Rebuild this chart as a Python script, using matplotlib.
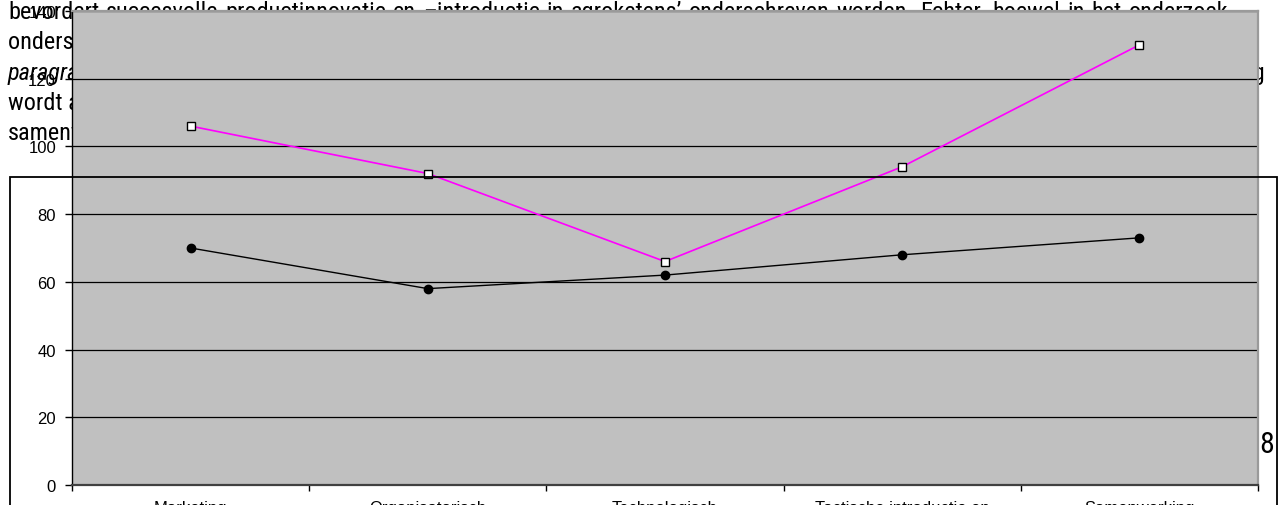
import matplotlib
matplotlib.use("Agg")
import matplotlib.pyplot as plt
from matplotlib import font_manager
from matplotlib.font_manager import FontProperties
from matplotlib.patches import Rectangle

# ---- data -------------------------------------------------------------
categories = ["Marketing", "Organisatorisch", "Technologisch",
              "Tactische introductie en\nacceptatie", "Samenwerking"]
series_black = [70, 58, 62, 68, 73]
series_pink = [106, 92, 66, 94, 130]
y_ticks = [0, 20, 40, 60, 80, 100, 120, 140]

# ---- surrounding page text ---------------------------------------------
body_line1 = ("bevordert succesvolle productinnovatie en \u2013introductie in "
              "agroketens\u2019 onderschreven worden. Echter, hoewel in het onderzoek")
body_left = [
    ("onderscheid gemaakt wordt tussen", False, 49),
    ("paragraaf", True, 80),
    ("wordt aandacht besteed aan", False, 110),
    ("samenwerking", False, 140),
]
body_right = [("samenwerking", 80)]
page_number = "8"

W, H = 1278, 506
fig = plt.figure(figsize=(W / 100, H / 100), dpi=100)


def pick_body_font(italic=False):
    """Prefer a narrow sans face for the running text, else Liberation Sans."""
    wanted_style = "italic" if italic else "normal"
    for fam in ("Liberation Sans Narrow", "Arial Narrow", "Roboto Condensed",
                "Open Sans Condensed", "DejaVu Sans Condensed"):
        for f in font_manager.fontManager.ttflist:
            if f.name == fam and f.style == wanted_style and f.weight in (400, "normal", "regular"):
                return FontProperties(fname=f.fname), True
    for f in font_manager.fontManager.ttflist:
        st = str(f.stretch)
        if ("condensed" in st or "narrow" in f.fname.lower()) and "sans" in f.name.lower() \
                and f.style == wanted_style and "bold" not in f.fname.lower():
            return FontProperties(fname=f.fname), True
    return FontProperties(family="Liberation Sans", style=wanted_style), False


body_fp, is_narrow = pick_body_font()
body_fp_it, _ = pick_body_font(italic=True)
body_size = 17.5 if is_narrow else 15.5
chart_font = "Liberation Sans"


def fy(py):
    return 1 - py / H


def fx(px):
    return px / W


renderer = fig.canvas.get_renderer()

# first body line, justified between the page margins
words = body_line1.split(" ")
x0, x1 = 8, 1228
size1 = body_size
for _ in range(20):
    arts = [fig.text(0, fy(19), w, fontproperties=body_fp, fontsize=size1,
                     va="baseline", ha="left", zorder=0) for w in words]
    widths = [a.get_window_extent(renderer).width for a in arts]
    gap = (x1 - x0 - sum(widths)) / (len(words) - 1)
    if gap < 3:
        step = -0.5
    elif gap > 8 and size1 < 20:
        step = 0.5
    else:
        break
    for a in arts:
        a.remove()
    size1 += step
x = x0
for a, w in zip(arts, widths):
    a.set_x(fx(x))
    x += w + gap

for txt, italic, base in body_left:
    fig.text(fx(8), fy(base), txt, fontproperties=body_fp_it if italic else body_fp,
             fontsize=body_size, va="baseline", ha="left", zorder=0)
for txt, base in body_right:
    fig.text(fx(1266), fy(base), txt, fontproperties=body_fp, fontsize=body_size,
             va="baseline", ha="right", zorder=0)
fig.text(fx(1267), fy(445), page_number, fontproperties=body_fp,
         fontsize=body_size + 4, va="center", ha="center", zorder=0)

# ---- chart ------------------------------------------------------------
ax = fig.add_axes([fx(72), 20 / H, 1186 / W, 474 / H], zorder=1)
ax.set_facecolor("#c0c0c0")
xs = list(range(len(categories)))

ax.plot(xs, series_black, color="black", lw=1.0, marker="o", ms=6,
        mfc="black", mec="black", zorder=3)
ax.plot(xs, series_pink, color="#ff00ff", lw=1.2, marker="s", ms=6,
        mfc="white", mec="black", mew=1.0, zorder=4)

ax.set_xlim(-0.5, len(categories) - 0.5)
ax.set_ylim(0, 140)
ax.set_yticks(y_ticks)
ax.set_yticklabels([str(v) for v in y_ticks], family=chart_font, fontsize=12)
ax.tick_params(axis="y", direction="out", length=5, width=1, pad=6.5, colors="black")

ax.set_xticks([i - 0.5 for i in range(len(categories) + 1)])
ax.set_xticklabels([])
ax.tick_params(axis="x", which="major", direction="out", length=4, width=1)
ax.set_xticks(xs, minor=True)
ax.set_xticklabels(categories, minor=True, family=chart_font, fontsize=12,
                   linespacing=1.1, va="top")
ax.tick_params(axis="x", which="minor", length=0, pad=10.5)

ax.grid(axis="y", color="black", lw=0.9)
ax.set_axisbelow(True)

ax.spines["left"].set_color("black")
ax.spines["left"].set_linewidth(1.0)
ax.spines["bottom"].set_color("#404040")
ax.spines["bottom"].set_linewidth(1.6)
for s in ("top", "right"):
    ax.spines[s].set_color("#9a9a9a")
    ax.spines[s].set_linewidth(1.6)

# frame drawn over the page
frame = Rectangle((fx(10), -0.05), fx(1277) - fx(10), fy(178) + 0.05,
                  transform=fig.transFigure, fill=False, edgecolor="black",
                  lw=1.3, zorder=5, clip_on=False)
fig.add_artist(frame)

fig.savefig("out.png", dpi=100)
